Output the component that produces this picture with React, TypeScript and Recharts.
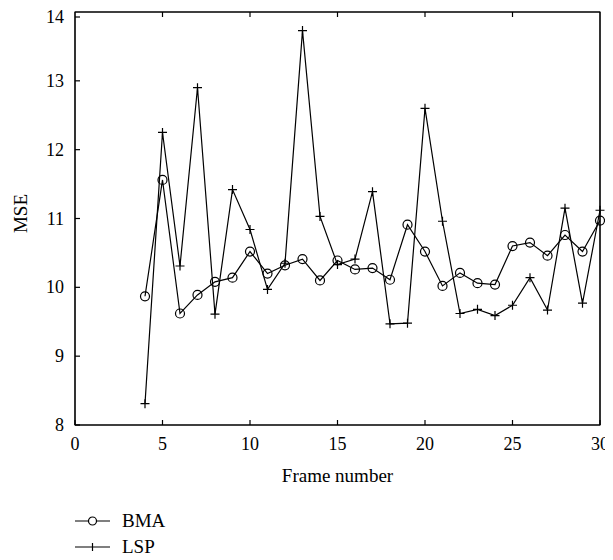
import React from "react";
import { LineChart, Line, XAxis, YAxis, ReferenceArea } from "recharts";

const frames = [4, 5, 6, 7, 8, 9, 10, 11, 12, 13, 14, 15, 16, 17, 18, 19, 20, 21, 22, 23, 24, 25, 26, 27, 28, 29, 30];
const bmaValues = [9.87, 11.56, 9.62, 9.89, 10.08, 10.14, 10.52, 10.2, 10.32, 10.41, 10.1, 10.39, 10.26, 10.28, 10.11, 10.91, 10.52, 10.02, 10.21, 10.06, 10.04, 10.6, 10.65, 10.46, 10.76, 10.52, 10.97];
const lspValues = [8.31, 12.25, 10.31, 12.9, 9.61, 11.42, 10.84, 9.97, 10.35, 13.73, 11.03, 10.33, 10.41, 11.39, 9.47, 9.48, 12.6, 10.96, 9.62, 9.68, 9.59, 9.74, 10.14, 9.67, 11.15, 9.77, 11.12];
const xTicks = [0, 5, 10, 15, 20, 25, 30];
const xTopTicks = [5, 10, 15, 20, 25];
const yTicks = [8, 9, 10, 11, 12, 13, 14];
const yRightTicks = [9, 10, 11, 12, 13];
const xDomain = [0, 30];
const yDomain = [8, 14];
const legendItems = [
  { name: "BMA", marker: "circle" },
  { name: "LSP", marker: "plus" },
];

const data = frames.map((f, i) => ({ frame: f, BMA: bmaValues[i], LSP: lspValues[i] }));

const FONT = "'Liberation Serif', 'DejaVu Serif', serif";
const TICK_LEN = 5;
const X_MARGIN = 14;
const Y_MARGIN = 11;

const CircleDot = (props: any) => {
  const { cx, cy, index } = props;
  return <circle key={`c-${index}`} cx={cx} cy={cy} r={4.5} fill="none" stroke="#000" strokeWidth={1.2} />;
};

const PlusDot = (props: any) => {
  const { cx, cy, index } = props;
  return (
    <path
      key={`p-${index}`}
      d={`M${cx - 4.5},${cy}h9M${cx},${cy - 4.5}v9`}
      stroke="#000"
      strokeWidth={1.2}
      fill="none"
    />
  );
};

const BottomTick = (props: any) => {
  const { x, y, payload } = props;
  const axisY = y - X_MARGIN;
  return (
    <g>
      <path d={`M${x},${axisY}v${-TICK_LEN}`} stroke="#000" strokeWidth={1.2} fill="none" />
      <text x={x} y={axisY + 25} textAnchor="middle" fontFamily={FONT} fontSize={18} fill="#000">
        {payload.value}
      </text>
    </g>
  );
};

const LeftTick = (props: any) => {
  const { x, y, payload } = props;
  const axisX = x + Y_MARGIN;
  return (
    <g>
      <path d={`M${axisX},${y}h${TICK_LEN}`} stroke="#000" strokeWidth={1.2} fill="none" />
      <text x={axisX - 11} y={y + 6} textAnchor="end" fontFamily={FONT} fontSize={18} fill="#000">
        {payload.value}
      </text>
    </g>
  );
};

const TopTick = (props: any) => {
  const { x, y } = props;
  const axisY = y + 2;
  return <path d={`M${x},${axisY}v${TICK_LEN}`} stroke="#000" strokeWidth={1.2} fill="none" />;
};

const RightTick = (props: any) => {
  const { x, y } = props;
  const axisX = x - 2;
  return <path d={`M${axisX},${y}h${-TICK_LEN}`} stroke="#000" strokeWidth={1.2} fill="none" />;
};

export default function App() {
  return (
    <div style={{ width: 605, fontFamily: FONT }}>
      <LineChart width={605} height={490} data={data} margin={{ top: 0, right: 8, left: 0, bottom: 0 }}>
        <XAxis
          xAxisId="b"
          dataKey="frame"
          type="number"
          domain={xDomain}
          ticks={xTicks}
          height={73}
          tickSize={0}
          tickMargin={X_MARGIN}
          tickLine={false}
          stroke="#000"
          tick={BottomTick}
          label={{
            value: "Frame number",
            position: "insideBottom",
            offset: 16,
            fill: "#000",
            fontSize: 19,
            fontFamily: FONT,
          }}
        />
        <XAxis
          xAxisId="t"
          orientation="top"
          dataKey="frame"
          type="number"
          domain={xDomain}
          ticks={xTopTicks}
          height={4}
          tickSize={0}
          tickMargin={2}
          tickLine={false}
          stroke="#000"
          tick={TopTick}
        />
        <YAxis
          yAxisId="l"
          type="number"
          domain={yDomain}
          ticks={yTicks}
          width={67}
          tickSize={0}
          tickMargin={Y_MARGIN}
          tickLine={false}
          stroke="#000"
          tick={LeftTick}
          label={{
            value: "MSE",
            angle: -90,
            position: "center",
            dx: -21.5,
            dy: -5,
            fill: "#000",
            fontSize: 19,
            fontFamily: FONT,
          }}
        />
        <YAxis
          yAxisId="r"
          orientation="right"
          type="number"
          domain={yDomain}
          ticks={yRightTicks}
          width={5}
          tickSize={0}
          tickMargin={2}
          tickLine={false}
          stroke="#000"
          tick={RightTick}
        />
        <ReferenceArea
          xAxisId="b"
          yAxisId="l"
          x1={xDomain[0]}
          x2={xDomain[1]}
          y1={yDomain[0]}
          y2={yDomain[1]}
          fill="none"
          fillOpacity={0}
          stroke="#000"
          strokeWidth={1.2}
          strokeOpacity={1}
          ifOverflow="visible"
        />
        <Line
          xAxisId="b"
          yAxisId="l"
          type="linear"
          dataKey="BMA"
          stroke="#000"
          strokeWidth={1.2}
          dot={CircleDot}
          activeDot={false}
          isAnimationActive={false}
        />
        <Line
          xAxisId="b"
          yAxisId="l"
          type="linear"
          dataKey="LSP"
          stroke="#000"
          strokeWidth={1.2}
          dot={PlusDot}
          activeDot={false}
          isAnimationActive={false}
        />
      </LineChart>
      <div style={{ marginTop: 10, paddingLeft: 67 }}>
        {legendItems.map((item) => (
          <div key={item.name} style={{ display: "flex", alignItems: "center", height: 26 }}>
            <svg width={36} height={12} style={{ display: "block" }}>
              <path d="M0,6H35" stroke="#000" strokeWidth={1.2} fill="none" />
              {item.marker === "circle" ? (
                <circle cx={17.5} cy={6} r={4} fill="#fff" stroke="#000" strokeWidth={1.2} />
              ) : (
                <path d="M17.5,2v8" stroke="#000" strokeWidth={1.2} fill="none" />
              )}
            </svg>
            <span style={{ marginLeft: 11, fontSize: 19, lineHeight: "26px", color: "#000" }}>{item.name}</span>
          </div>
        ))}
      </div>
    </div>
  );
}
